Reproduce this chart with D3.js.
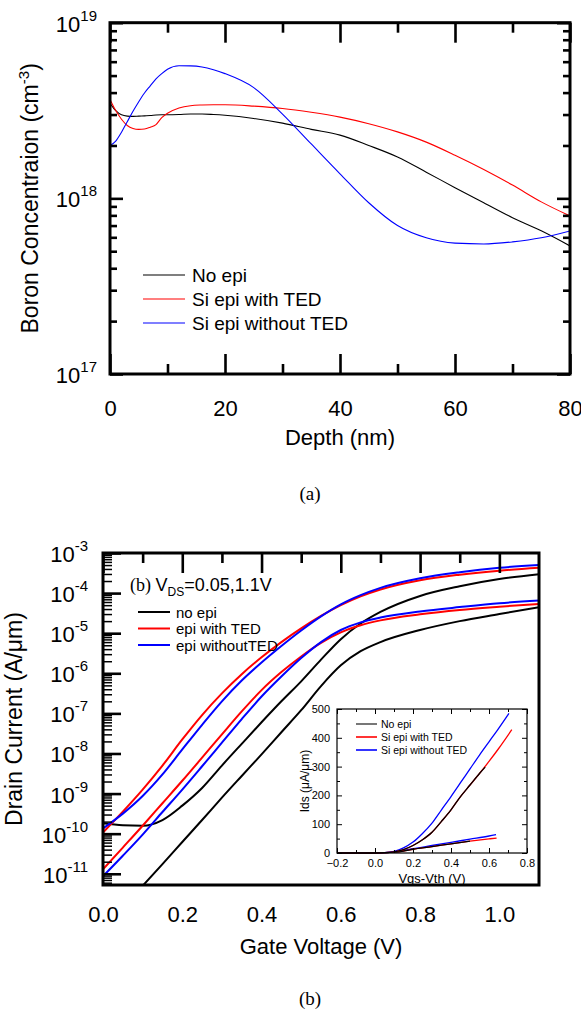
<!DOCTYPE html>
<html><head><meta charset="utf-8">
<script src="https://cdn.jsdelivr.net/npm/d3@7"></script>
<style>
body{margin:0;background:#fff}
svg{display:block}
text{font-family:"Liberation Sans",Arial,sans-serif;fill:#000}
.serif{font-family:"Liberation Serif","Times New Roman",serif}
</style>
</head><body>
<svg id="c" width="581" height="1011"></svg>
<script>
// ---------- DATA: panel (a) boron profiles ----------
const depth = [0,1,2,3,4,5,6,7,8,9,10,12,14,16,18,20,25,30,35,40,45,50,55,60,65,70,75,80];
const boronNoEpi = [3.48e18,3.16e18,2.99e18,2.94e18,2.93e18,2.94e18,2.95e18,2.96e18,2.98e18,2.99e18,2.99e18,3.0e18,3.02e18,3.02e18,3.0e18,2.97e18,2.85e18,2.68e18,2.47e18,2.29e18,2.0e18,1.72e18,1.41e18,1.15e18,9.44e17,7.76e17,6.53e17,5.36e17];
const boronEpiTED = [3.66e18,3.16e18,2.82e18,2.6e18,2.5e18,2.47e18,2.48e18,2.54e18,2.63e18,2.88e18,3.05e18,3.27e18,3.37e18,3.4e18,3.41e18,3.41e18,3.35e18,3.25e18,3.09e18,2.9e18,2.66e18,2.39e18,2.09e18,1.76e18,1.46e18,1.19e18,9.55e17,7.94e17];
const boronEpiNoTED = [2.0e18,2.12e18,2.38e18,2.73e18,3.13e18,3.55e18,3.98e18,4.37e18,4.79e18,5.13e18,5.43e18,5.69e18,5.68e18,5.6e18,5.4e18,5.13e18,4.27e18,3.02e18,2.04e18,1.38e18,9.44e17,7.0e17,5.96e17,5.56e17,5.5e17,5.65e17,5.96e17,6.52e17];
const depthMajor = [0,20,40,60,80];
const depthMinor = [10,30,50,70];
const boronMajor = [1e17,1e18,1e19];
const boronExp = ["17","18","19"];
const legendA = ["No epi","Si epi with TED","Si epi without TED"];

// ---------- DATA: panel (b) Id-Vg ----------
const vgs = [0,0.05,0.1,0.15,0.2,0.25,0.3,0.35,0.4,0.45,0.5,0.55,0.6,0.65,0.7,0.8,0.9,1.0,1.1];
const idNoEpiLin  = [null,null,5.0e-12,1.74e-11,6.2e-11,2.19e-10,7.9e-10,2.75e-9,9.5e-9,3.39e-8,1.2e-7,4.8e-7,1.58e-6,3.55e-6,6.0e-6,1.2e-5,2.0e-5,3.0e-5,4.47e-5];
const idNoEpiSat  = [1.82e-10,1.62e-10,1.58e-10,2.19e-10,5.0e-10,1.38e-9,5.0e-9,1.74e-8,6.0e-8,2.0e-7,6.3e-7,2.19e-6,7.1e-6,1.74e-5,3.39e-5,8.5e-5,1.48e-4,2.24e-4,2.95e-4];
const idTEDLin    = [1.29e-11,4.5e-11,1.58e-10,5.75e-10,2.09e-9,7.9e-9,3.0e-8,1.12e-7,3.8e-7,1.07e-6,2.63e-6,5.75e-6,1.05e-5,1.58e-5,2.09e-5,2.95e-5,3.8e-5,4.57e-5,5.37e-5];
const idTEDSat    = [1.07e-10,3.55e-10,1.26e-9,5.0e-9,2.24e-8,9.1e-8,3.16e-7,9.5e-7,2.51e-6,6.0e-6,1.32e-5,2.69e-5,5.0e-5,8.3e-5,1.23e-4,2.09e-4,2.88e-4,3.63e-4,4.27e-4];
const idNoTEDLin  = [8.7e-12,2.82e-11,9.5e-11,3.47e-10,1.26e-9,4.8e-9,1.86e-8,7.2e-8,2.63e-7,8.3e-7,2.4e-6,6.0e-6,1.2e-5,1.86e-5,2.45e-5,3.47e-5,4.47e-5,5.6e-5,6.5e-5];
const idNoTEDSat  = [1.35e-10,3.16e-10,8.7e-10,3.0e-9,1.26e-8,5.2e-8,2.0e-7,6.6e-7,1.86e-6,4.8e-6,1.17e-5,2.63e-5,5.25e-5,8.9e-5,1.35e-4,2.34e-4,3.31e-4,4.27e-4,5.0e-4];
const vgMajor = [0,0.2,0.4,0.6,0.8,1.0];
const vgMinor = [0.1,0.3,0.5,0.7,0.9];
const idExp = [-11,-10,-9,-8,-7,-6,-5,-4,-3];
const legendB = ["no epi","epi with TED","epi withoutTED"];

// ---------- DATA: inset (linear Ids vs Vgs-Vth) ----------
const inXNoEpiSat = [-0.2,-0.1,0,0.05,0.1,0.15,0.2,0.25,0.3,0.35,0.4,0.45,0.5,0.55,0.58];
const inNoEpiSat  = [0,0,0,1,4,12,26,46,72,110,150,196,236,276,298];
const inXTEDSat   = [-0.2,-0.1,0,0.05,0.1,0.15,0.2,0.25,0.3,0.35,0.4,0.45,0.5,0.55,0.6,0.65,0.72];
const inTEDSat    = [0,0,0,1,4,12,26,46,72,110,150,196,236,276,318,362,428];
const inXNoTEDSat = [-0.2,-0.1,0,0.05,0.1,0.15,0.2,0.25,0.3,0.35,0.4,0.45,0.5,0.55,0.6,0.65,0.705];
const inNoTEDSat  = [0,0,0,1,6,18,38,68,104,150,196,244,292,340,386,432,485];
const inXNoEpiLin = [-0.2,-0.1,0,0.05,0.1,0.15,0.2,0.3,0.4,0.5];
const inNoEpiLin  = [0,0,0,1,3,7,13,22,32,41];
const inXTEDLin   = [-0.2,-0.1,0,0.05,0.1,0.15,0.2,0.3,0.4,0.5,0.6,0.64];
const inTEDLin    = [0,0,0,1,3,7,13,22,32,41,49,52];
const inXNoTEDLin = [-0.2,-0.1,0,0.05,0.1,0.15,0.2,0.3,0.4,0.5,0.6,0.637];
const inNoTEDLin  = [0,0,0,1,4,9,15,26,37,48,59,64];
const inXTicks = [-0.2,0,0.2,0.4,0.6,0.8];
const inXMinor = [-0.1,0.1,0.3,0.5,0.7];
const inYTicks = [0,100,200,300,400,500];
const inYMinor = [50,150,250,350,450];
const legendIn = ["No epi","Si epi with TED","Si epi without TED"];

const colors = ["#000000","#ff0000","#0000ff"];

const svg = d3.select("#c");

function tickAxis(axis, transform, width) {
  const g = svg.append("g").attr("transform", transform).call(axis);
  g.select(".domain").remove();
  g.selectAll(".tick line").attr("stroke","#000").attr("stroke-width", width);
  return g;
}
function supText(x, y, base, exp, fs, sfs, raise) {
  const t = svg.append("text").attr("x", x).attr("y", y).attr("text-anchor","end").style("font-size", fs+"px");
  t.append("tspan").text(base);
  t.append("tspan").attr("dy", -raise).style("font-size", sfs+"px").text(exp);
  return t;
}
const decadeMinor = (lo, hi, dmin, dmax) => {
  const out = [];
  for (let e = lo; e <= hi; e++) for (let m = 2; m <= 9; m++) { const v = m*Math.pow(10,e); if (v>dmin && v<dmax) out.push(v); }
  return out;
};

// ================= PANEL (a) =================
const ax = {l:110, r:570, t:22.7, b:374};
const x1 = d3.scaleLinear().domain([0,80]).range([ax.l, ax.r]);
const y1 = d3.scaleLog().domain([1e17,1e19]).range([ax.b, ax.t]);

svg.append("clipPath").attr("id","clipA").append("rect")
  .attr("x",ax.l).attr("y",ax.t).attr("width",ax.r-ax.l).attr("height",ax.b-ax.t);

const lineA = d3.line().x((d,i)=>x1(depth[i])).y(d=>y1(d)).curve(d3.curveMonotoneX);
[boronNoEpi, boronEpiTED, boronEpiNoTED].forEach((s,k)=>{
  svg.append("path").attr("clip-path","url(#clipA)").attr("d", lineA(s))
    .attr("fill","none").attr("stroke", colors[k]).attr("stroke-width", 1.1);
});

// ticks
const minA = decadeMinor(17,18,1e17,1e19);
tickAxis(d3.axisBottom(x1).tickValues(depthMajor).tickSize(-20).tickPadding(26).tickFormat(d3.format("d")), `translate(0,${ax.b})`, 2.6)
  .selectAll("text").style("font-size","22px").attr("fill","#000");
tickAxis(d3.axisBottom(x1).tickValues(depthMinor).tickSize(-10).tickFormat(""), `translate(0,${ax.b})`, 2.6);
tickAxis(d3.axisTop(x1).tickValues(depthMajor).tickSize(-20).tickFormat(""), `translate(0,${ax.t})`, 2.6);
tickAxis(d3.axisTop(x1).tickValues(depthMinor).tickSize(-10).tickFormat(""), `translate(0,${ax.t})`, 2.6);
tickAxis(d3.axisLeft(y1).tickValues(boronMajor).tickSize(-13).tickFormat(""), `translate(${ax.l},0)`, 2.6);
tickAxis(d3.axisLeft(y1).tickValues(minA).tickSize(-7).tickFormat(""), `translate(${ax.l},0)`, 2.6);
tickAxis(d3.axisRight(y1).tickValues(boronMajor).tickSize(-13).tickFormat(""), `translate(${ax.r},0)`, 2.6);
tickAxis(d3.axisRight(y1).tickValues(minA).tickSize(-7).tickFormat(""), `translate(${ax.r},0)`, 2.6);
svg.append("rect").attr("x",ax.l).attr("y",ax.t).attr("width",ax.r-ax.l).attr("height",ax.b-ax.t)
  .attr("fill","none").attr("stroke","#000").attr("stroke-width",3);

boronMajor.forEach((v,i)=> supText(97, y1(v)+9, "10", boronExp[i], 22, 15, 11));

svg.append("text").attr("x", (ax.l+ax.r)/2).attr("y", 445).attr("text-anchor","middle")
  .style("font-size","22px").text("Depth (nm)");
{
  const t = svg.append("text").attr("transform", `translate(38,${(ax.t+ax.b)/2}) rotate(-90)`)
    .attr("text-anchor","middle").style("font-size","23px");
  t.append("tspan").text("Boron Concentraion (cm");
  t.append("tspan").attr("dy",-9).style("font-size","15px").text("-3");
  t.append("tspan").attr("dy",9).text(")");
}
// legend (a)
const legAy = [275, 299, 323];
legendA.forEach((s,i)=>{
  svg.append("line").attr("x1",143).attr("x2",185).attr("y1",legAy[i]).attr("y2",legAy[i])
    .attr("stroke",colors[i]).attr("stroke-width",1.1);
  svg.append("text").attr("x",192).attr("y",legAy[i]+7).style("font-size","19px").text(s);
});
svg.append("text").attr("class","serif").attr("x",310).attr("y",500).attr("text-anchor","middle")
  .style("font-size","19px").text("(a)");

// ================= PANEL (b) =================
const bx = {l:103, r:539, t:553, b:885};
const x2 = d3.scaleLinear().domain([0,1.1]).range([bx.l, bx.r]);
const y2 = d3.scaleLog().domain([Math.pow(10,-11.28), 1e-3]).range([bx.b, bx.t]);

svg.append("clipPath").attr("id","clipB").append("rect")
  .attr("x",bx.l).attr("y",bx.t).attr("width",bx.r-bx.l).attr("height",bx.b-bx.t);

const lineB = d3.line().defined(d=>d!=null).x((d,i)=>x2(vgs[i])).y(d=>y2(d)).curve(d3.curveMonotoneX);
const seriesB = [[idNoEpiLin,0],[idNoEpiSat,0],[idTEDLin,1],[idTEDSat,1],[idNoTEDLin,2],[idNoTEDSat,2]];
seriesB.forEach(([s,k])=>{
  svg.append("path").attr("clip-path","url(#clipB)").attr("d", lineB(s))
    .attr("fill","none").attr("stroke", colors[k]).attr("stroke-width", 2);
});

const idMajor = idExp.map(e=>Math.pow(10,e));
const minB = decadeMinor(-12,-4,Math.pow(10,-11.28),1e-3);
tickAxis(d3.axisTop(x2).tickValues(vgMajor).tickSize(-20).tickFormat(""), `translate(0,${bx.t})`, 2.6);
tickAxis(d3.axisTop(x2).tickValues(vgMinor).tickSize(-10).tickFormat(""), `translate(0,${bx.t})`, 2.6);
tickAxis(d3.axisLeft(y2).tickValues(idMajor).tickSize(-18).tickFormat(""), `translate(${bx.l},0)`, 2.6);
tickAxis(d3.axisLeft(y2).tickValues(minB).tickSize(-9).tickFormat(""), `translate(${bx.l},0)`, 1.5);
tickAxis(d3.axisBottom(x2).tickValues(vgMajor).tickSize(0).tickPadding(21).tickFormat(d3.format(".1f")), `translate(0,${bx.b})`, 0)
  .selectAll("text").style("font-size","22px").attr("fill","#000");
svg.append("rect").attr("x",bx.l).attr("y",bx.t).attr("width",bx.r-bx.l).attr("height",bx.b-bx.t)
  .attr("fill","none").attr("stroke","#000").attr("stroke-width",3);

idMajor.forEach((v,i)=> supText(88, y2(v)+9, "10", String(idExp[i]), 22, 15, 11));

svg.append("text").attr("x", (bx.l+bx.r)/2).attr("y", 954).attr("text-anchor","middle")
  .style("font-size","22px").text("Gate Voltage (V)");
svg.append("text").attr("transform", `translate(22,${(bx.t+bx.b)/2}) rotate(-90)`)
  .attr("text-anchor","middle").style("font-size","23px").text("Drain Current (A/\u03bcm)");

// annotation
{
  const t = svg.append("text").attr("x",130).attr("y",591).style("font-size","18px");
  t.append("tspan").style("font-family",'"Liberation Serif","Times New Roman",serif').text("(b) ");
  t.append("tspan").text("V");
  t.append("tspan").attr("dy",5).style("font-size","12px").text("DS");
  t.append("tspan").attr("dy",-5).text("=0.05,1.1V");
}
const legBy = [612, 628.5, 645];
legendB.forEach((s,i)=>{
  svg.append("line").attr("x1",138).attr("x2",170).attr("y1",legBy[i]).attr("y2",legBy[i])
    .attr("stroke",colors[i]).attr("stroke-width",2);
  svg.append("text").attr("x",176).attr("y",legBy[i]+5.5).style("font-size","15px").text(s);
});

// ---------- inset ----------
const ix = {l:337, r:527, t:709, b:853};
const x3 = d3.scaleLinear().domain([-0.2,0.8]).range([ix.l, ix.r]);
const y3 = d3.scaleLinear().domain([0,500]).range([ix.b, ix.t]);
const inSeries = [
  [inXNoTEDLin,inNoTEDLin,2],[inXTEDLin,inTEDLin,1],[inXNoEpiLin,inNoEpiLin,0],
  [inXNoTEDSat,inNoTEDSat,2],[inXTEDSat,inTEDSat,1],[inXNoEpiSat,inNoEpiSat,0]
];
inSeries.forEach(([xs,ys,k])=>{
  const ln = d3.line().x((d,i)=>x3(xs[i])).y(d=>y3(d)).curve(d3.curveMonotoneX);
  svg.append("path").attr("d", ln(ys)).attr("fill","none").attr("stroke",colors[k]).attr("stroke-width",1.3);
});
function inTicks(axis, transform){ return tickAxis(axis, transform, 1); }
inTicks(d3.axisBottom(x3).tickValues(inXTicks).tickSize(-5).tickPadding(6).tickFormat(d3.format(".1f")), `translate(0,${ix.b})`)
  .selectAll("text").style("font-size","11px").attr("fill","#222");
inTicks(d3.axisBottom(x3).tickValues(inXMinor).tickSize(-3).tickFormat(""), `translate(0,${ix.b})`);
inTicks(d3.axisTop(x3).tickValues(inXTicks).tickSize(-5).tickFormat(""), `translate(0,${ix.t})`);
inTicks(d3.axisTop(x3).tickValues(inXMinor).tickSize(-3).tickFormat(""), `translate(0,${ix.t})`);
inTicks(d3.axisLeft(y3).tickValues(inYTicks).tickSize(-5).tickPadding(7).tickFormat(d3.format("d")), `translate(${ix.l},0)`)
  .selectAll("text").style("font-size","11px").attr("fill","#222");
inTicks(d3.axisLeft(y3).tickValues(inYMinor).tickSize(-3).tickFormat(""), `translate(${ix.l},0)`);
inTicks(d3.axisRight(y3).tickValues(inYTicks).tickSize(-5).tickFormat(""), `translate(${ix.r},0)`);
inTicks(d3.axisRight(y3).tickValues(inYMinor).tickSize(-3).tickFormat(""), `translate(${ix.r},0)`);
svg.append("rect").attr("x",ix.l).attr("y",ix.t).attr("width",ix.r-ix.l).attr("height",ix.b-ix.t)
  .attr("fill","none").attr("stroke","#000").attr("stroke-width",1.2);
svg.append("text").attr("x",(ix.l+ix.r)/2).attr("y",883).attr("text-anchor","middle")
  .style("font-size","13px").attr("fill","#222").text("Vgs-Vth (V)");
svg.append("text").attr("transform",`translate(309,${(ix.t+ix.b)/2}) rotate(-90)`).attr("text-anchor","middle")
  .style("font-size","12px").attr("fill","#222").text("Ids (\u03bcA/\u03bcm)");
const legIy = [724, 737, 750];
legendIn.forEach((s,i)=>{
  svg.append("line").attr("x1",356).attr("x2",377).attr("y1",legIy[i]).attr("y2",legIy[i])
    .attr("stroke", i===0 ? "#555" : colors[i]).attr("stroke-width",1.6);
  svg.append("text").attr("x",381).attr("y",legIy[i]+4).style("font-size","10.5px").attr("fill","#222").text(s);
});

svg.append("text").attr("class","serif").attr("x",310).attr("y",1005).attr("text-anchor","middle")
  .style("font-size","19px").text("(b)");
</script>
</body></html>
